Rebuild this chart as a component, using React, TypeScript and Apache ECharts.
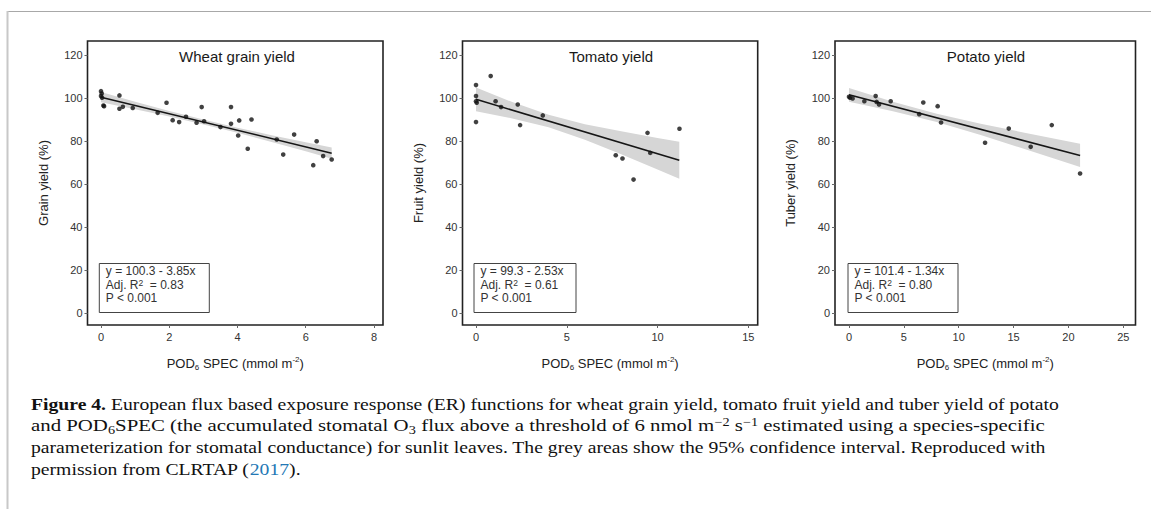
import React, { useEffect, useRef } from "react";
import * as echarts from "echarts";

// ---------- data ----------
const panelTitles = ["Wheat grain yield", "Tomato yield", "Potato yield"];
const yNames = ["Grain yield (%)", "Fruit yield (%)", "Tuber yield (%)"];
const xTicks1 = [0, 2, 4, 6, 8];
const xTicks2 = [0, 5, 10, 15];
const xTicks3 = [0, 5, 10, 15, 20, 25];
const yTicks = [0, 20, 40, 60, 80, 100, 120];

const wheatX = [0, 0.02, 0, 0.03, 0.07, 0.09, 0.54, 0.54, 0.64, 0.93, 1.66, 1.92, 2.1, 2.29, 2.49, 2.8, 2.95, 3.02, 3.5, 3.81, 3.81, 4.05, 4.02, 4.3, 4.41, 5.15, 5.34, 5.66, 6.22, 6.32, 6.51, 6.76];
const wheatY = [103.1, 102, 100.8, 100, 96.4, 96.1, 101.1, 94.9, 95.8, 95.3, 93, 97.7, 89.6, 88.7, 91.2, 88.4, 95.7, 89.1, 86.4, 95.7, 87.9, 89.5, 82.5, 76.3, 89.9, 80.6, 73.6, 82.9, 68.7, 79.8, 72.9, 71.3];
const tomatoX = [0, 0, 0, 0.04, 0, 0.81, 1.08, 1.38, 2.3, 2.43, 3.68, 7.7, 8.07, 8.68, 9.45, 9.6, 11.21];
const tomatoY = [105.9, 100.8, 98.4, 97.7, 88.7, 110.1, 98.4, 95.7, 96.9, 87.3, 91.8, 73.3, 71.8, 62, 83.7, 74.4, 85.6];
const potatoX = [0, 0.09, 0.33, 1.4, 2.43, 2.52, 2.74, 3.8, 6.4, 6.77, 8.08, 8.39, 12.4, 14.56, 16.56, 18.48, 21.06];
const potatoY = [100.5, 100, 99.7, 98.4, 100.8, 98.1, 96.9, 98.4, 92.4, 97.8, 96.1, 88.5, 79.1, 85.7, 77.2, 87.3, 64.8];

// fitted lines (end points)
const wheatFitX = [0, 6.76];
const wheatFitY = [100.3, 74.27];
const tomatoFitX = [0, 11.2];
const tomatoFitY = [99.3, 70.96];
const potatoFitX = [0, 21.06];
const potatoFitY = [101.4, 73.18];

// 95% confidence bands
const wheatCiX = [0, 1, 2, 3, 4, 5, 6, 6.76];
const wheatCiUp = [102.7, 98.2, 93.9, 89.9, 86.1, 82.6, 79.3, 76.9];
const wheatCiLo = [97.9, 94.7, 91.3, 87.6, 83.7, 79.5, 75.1, 71.7];
const tomatoCiX = [0, 2, 4, 6, 8, 10, 11.2];
const tomatoCiUp = [104.8, 98.0, 92.1, 87.7, 84.4, 81.3, 79.6];
const tomatoCiLo = [93.8, 90.4, 86.3, 80.5, 73.8, 66.7, 62.4];
const potatoCiX = [0, 4, 8, 12, 16, 21.06];
const potatoCiUp = [104.6, 98.2, 92.6, 87.9, 83.8, 78.6];
const potatoCiLo = [98.2, 93.8, 88.8, 82.7, 76.2, 67.8];

const eqTexts = ["y = 100.3 - 3.85x", "y = 99.3 - 2.53x", "y = 101.4 - 1.34x"];
const r2Texts = ["0.83", "0.61", "0.80"];
const pTexts = ["P < 0.001", "P < 0.001", "P < 0.001"];

const SANS = "'Liberation Sans', Arial, sans-serif";
const SERIF = "'Liberation Serif', 'Times New Roman', serif";

const zip = (a: number[], b: number[]) => a.map((v, i) => [v, b[i]]);

export default function App() {
  const ref = useRef<HTMLDivElement>(null);
  useEffect(() => {
    if (!ref.current) return;
    const chart = echarts.init(ref.current, null, { renderer: "svg" });

    const grids = [
      { left: 87.5, top: 41, width: 295.5, height: 284 },
      { left: 462.5, top: 41, width: 295.2, height: 284 },
      { left: 835, top: 41, width: 300.5, height: 284 },
    ];
    const xRanges = [
      [-0.396, 8.264],
      [-0.744, 15.52],
      [-1.276, 26.11],
    ];
    const xTicks = [xTicks1, xTicks2, xTicks3];
    const pts = [zip(wheatX, wheatY), zip(tomatoX, tomatoY), zip(potatoX, potatoY)];
    const fits = [zip(wheatFitX, wheatFitY), zip(tomatoFitX, tomatoFitY), zip(potatoFitX, potatoFitY)];
    const cis = [
      { x: wheatCiX, up: wheatCiUp, lo: wheatCiLo },
      { x: tomatoCiX, up: tomatoCiUp, lo: tomatoCiLo },
      { x: potatoCiX, up: potatoCiUp, lo: potatoCiLo },
    ];

    const xName = "{n|POD}{sub|6}{n| SPEC (mmol m}{sup|-2}{n|)}";
    const series: any[] = [];
    grids.forEach((_, i) => {
      const ci = cis[i];
      series.push({
        type: "custom",
        xAxisIndex: i,
        yAxisIndex: i,
        coordinateSystem: "cartesian2d",
        data: [[ci.x[0], ci.up[0]]],
        silent: true,
        z: 1,
        renderItem: (params: any, api: any) => {
          const upper = ci.x.map((x, k) => api.coord([x, ci.up[k]]));
          const lower = ci.x.map((x, k) => api.coord([x, ci.lo[k]])).reverse();
          return {
            type: "polygon",
            shape: { points: upper.concat(lower) },
            style: { fill: "#d6d6d6", stroke: "none" },
          };
        },
      });
      series.push({
        type: "line",
        xAxisIndex: i,
        yAxisIndex: i,
        data: fits[i],
        showSymbol: false,
        lineStyle: { color: "#151515", width: 1.6 },
        z: 2,
      });
      series.push({
        type: "scatter",
        xAxisIndex: i,
        yAxisIndex: i,
        data: pts[i],
        symbolSize: 4.6,
        itemStyle: { color: "#111" },
        z: 3,
      });
    });

    const graphics: any[] = [
      { type: "line", shape: { x1: 7, y1: 11.5, x2: 1151, y2: 11.5 }, style: { stroke: "#a8a8a8", lineWidth: 1 } },
      { type: "line", shape: { x1: 7.5, y1: 11, x2: 7.5, y2: 509 }, style: { stroke: "#c8c8c8", lineWidth: 2 } },
    ];
    const titleCx = [237, 611, 986];
    const boxX = [99.3, 474, 848];
    const boxW = [110, 102, 110];
    grids.forEach((g, i) => {
      graphics.push({
        type: "text",
        x: titleCx[i],
        y: 56,
        style: { text: panelTitles[i], font: `15px ${SANS}`, fill: "#1a1a1a", align: "center", verticalAlign: "middle" },
      });
      graphics.push({
        type: "rect",
        shape: { x: boxX[i], y: 263.5, width: boxW[i], height: 49 },
        style: { fill: "#fff", stroke: "#444", lineWidth: 1 },
        z: 10,
      });
      graphics.push({
        type: "text",
        x: boxX[i] + 6.5,
        y: 264.5,
        z: 11,
        style: {
          text: `{t|${eqTexts[i]}}\n{t|Adj. R}{s|2}{t|  = ${r2Texts[i]}}\n{t|${pTexts[i]}}`,
          fill: "#333",
          rich: {
            t: { fontSize: 12, fontFamily: SANS, lineHeight: 13.5, fill: "#333" },
            s: { fontSize: 8.5, fontFamily: SANS, lineHeight: 7, verticalAlign: "top", fill: "#333" },
          },
        },
      });
    });

    const capLeft = 31;
    const FS = 17.5;
    const capRich = {
      b: { fontFamily: SERIF, fontSize: FS, fontWeight: "bold", fill: "#111", lineHeight: 20 },
      n: { fontFamily: SERIF, fontSize: FS, fill: "#111", lineHeight: 20 },
      l: { fontFamily: SERIF, fontSize: FS, fill: "#2378b5", lineHeight: 20 },
      sub: { fontFamily: SERIF, fontSize: 12, fill: "#111", lineHeight: 10, verticalAlign: "bottom" },
      sup: { fontFamily: SERIF, fontSize: 12, fill: "#111", lineHeight: 10, verticalAlign: "top" },
    };
    const capLines = [
      "{b|Figure 4.}{n| European flux based exposure response (ER) functions for wheat grain yield, tomato fruit yield and tuber yield of potato}",
      "{n|and POD}{sub|6}{n|SPEC (the accumulated stomatal O}{sub|3}{n| flux above a threshold of 6 nmol m}{sup|−2}{n| s}{sup|−1}{n| estimated using a species-specific}",
      "{n|parameterization for stomatal conductance) for sunlit leaves. The grey areas show the 95% confidence interval. Reproduced with}",
      "{n|permission from CLRTAP (}{l|2017}{n|).}",
    ];
    const capY = [404, 425.5, 447, 468.5];
    const capScale = [1.125, 1.19, 1.125, 1.125];
    capLines.forEach((t, i) => {
      graphics.push({
        type: "text",
        x: capLeft,
        y: capY[i],
        scaleX: capScale[i],
        style: { text: t, rich: capRich, verticalAlign: "middle", align: "left" },
      });
    });

    chart.setOption({
      animation: false,
      backgroundColor: "#fff",
      grid: grids.map((g) => ({ ...g, show: true, borderColor: "#222", borderWidth: 1.6, backgroundColor: "transparent", containLabel: false })),
      xAxis: grids.map((_, i) => ({
        gridIndex: i,
        type: "value",
        min: xRanges[i][0],
        max: xRanges[i][1],
        axisLine: { show: false, onZero: false },
        splitLine: { show: false },
        axisTick: { show: true, customValues: xTicks[i], length: 3, lineStyle: { color: "#666" } },
        axisLabel: { customValues: xTicks[i], margin: 6, fontSize: 11, color: "#333", fontFamily: SANS },
        name: xName,
        nameLocation: "middle",
        nameGap: 30,
        nameTextStyle: {
          rich: {
            n: { fontSize: 13, fontFamily: SANS, color: "#222", lineHeight: 16 },
            sub: { fontSize: 8, fontFamily: SANS, color: "#222", lineHeight: 7, verticalAlign: "bottom" },
            sup: { fontSize: 8, fontFamily: SANS, color: "#222", lineHeight: 7, verticalAlign: "top" },
          },
        },
      })),
      yAxis: grids.map((_, i) => ({
        gridIndex: i,
        type: "value",
        min: -5.6,
        max: 126.4,
        axisLine: { show: false, onZero: false },
        splitLine: { show: false },
        axisTick: { show: true, customValues: yTicks, length: 3, lineStyle: { color: "#666" } },
        axisLabel: { customValues: yTicks, margin: 5, fontSize: 11, color: "#333", fontFamily: SANS },
        name: yNames[i],
        nameLocation: "middle",
        nameGap: 38,
        nameTextStyle: { fontSize: 13, fontFamily: SANS, color: "#222" },
      })),
      series,
      graphic: graphics,
    });
    return () => chart.dispose();
  }, []);
  return (
    <div
      ref={ref}
      style={{ position: "absolute", left: 0, top: 0, width: 1151, height: 509, background: "#fff" }}
    />
  );
}
